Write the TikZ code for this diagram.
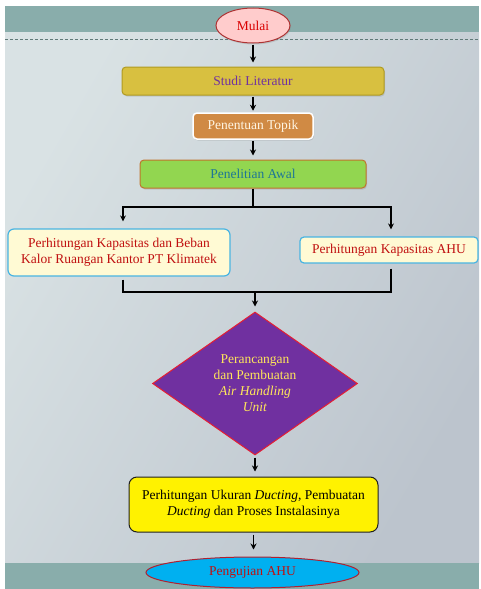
\documentclass[tikz,border=0pt]{standalone}
\usepackage{fontspec}
\setmainfont{Liberation Serif}
\usetikzlibrary{shapes.geometric,arrows.meta,shadows}
\definecolor{band}{HTML}{89ADAB}
\definecolor{bgl}{HTML}{D9E2E4}
\definecolor{bgd}{HTML}{BCC4CD}
\tikzset{
  every node/.style={font=\fontsize{13.5}{16}\selectfont, inner sep=0pt, align=center},
  boxshadow/.style={drop shadow={opacity=0.25, shadow xshift=1pt, shadow yshift=-1.5pt}},
  arr/.style={draw=black, line width=1.1pt, -{Stealth[length=6pt,width=6pt]}},
  conn/.style={draw=black, line width=1.1pt},
}
\begin{document}
\begin{tikzpicture}[x=1pt,y=-1pt]
\useasboundingbox (0,0) rectangle (480,589);
\fill[white] (0,0) rectangle (480,589);
% slide background
\shade[top color=bgl, bottom color=bgd, shading angle=60] (5,32) rectangle (479,563);
\fill[band] (5,6) rectangle (479,32);
\fill[band] (5,563) rectangle (479,589);
\draw[color=band!70!black, dashed, line width=0.6pt, dash pattern=on 3pt off 2pt] (5,39) -- (479,39);

% nodes
\node[ellipse, minimum width=74pt, minimum height=35pt, fill=red!20!white, draw=red!60!black!80, line width=1pt, text=red!85!black, boxshadow] (mulai) at (253,25.5) {Mulai};
\node[rounded corners=4pt, minimum width=262pt, minimum height=28pt, fill={rgb,255:red,216;green,192;blue,64}, draw={rgb,255:red,176;green,154;blue,32}, line width=1pt, text={rgb,255:red,112;green,48;blue,160}, boxshadow] (studi) at (253,81) {Studi Literatur};
\node[rounded corners=4pt, minimum width=120pt, minimum height=26pt, fill={rgb,255:red,208;green,138;blue,68}, draw=white, line width=1.5pt, text={rgb,255:red,255;green,246;blue,228}, boxshadow] (topik) at (253,126) {Penentuan Topik};
\node[rounded corners=4pt, minimum width=226pt, minimum height=28pt, fill={rgb,255:red,146;green,214;blue,80}, draw={rgb,255:red,192;green,116;blue,44}, line width=1pt, text={rgb,255:red,30;green,118;blue,150}, boxshadow] (awal) at (253,174) {Penelitian Awal};
\node[rounded corners=6pt, minimum width=222pt, minimum height=47pt, fill={rgb,255:red,255;green,250;blue,212}, draw={rgb,255:red,72;green,180;blue,226}, line width=1.2pt, text={rgb,255:red,192;green,16;blue,16}] (kiri) at (119,252.5) {Perhitungan Kapasitas dan Beban\\Kalor Ruangan Kantor PT Klimatek};
\node[rounded corners=4pt, minimum width=178pt, minimum height=26pt, fill={rgb,255:red,255;green,250;blue,212}, draw={rgb,255:red,72;green,180;blue,226}, line width=1.2pt, text={rgb,255:red,192;green,16;blue,16}] (kanan) at (389,250) {Perhitungan Kapasitas AHU};
\node[diamond, aspect=1.43, minimum width=205pt, minimum height=143pt, fill={rgb,255:red,112;green,48;blue,160}, draw={rgb,255:red,230;green,30;blue,50}, line width=1pt, text={rgb,255:red,255;green,230;blue,90}] (dmd) at (255,383.5) {Perancangan\\dan Pembuatan\\\textit{Air Handling}\\\textit{Unit}};
\node[rounded corners=8pt, minimum width=249pt, minimum height=55pt, fill=yellow, draw={rgb,255:red,32;green,32;blue,32}, line width=1pt, text=black] (duct) at (253.5,504.5) {Perhitungan Ukuran \textit{Ducting}, Pembuatan\\\textit{Ducting} dan Proses Instalasinya};
\node[ellipse, minimum width=213pt, minimum height=31pt, fill={rgb,255:red,0;green,176;blue,240}, draw={rgb,255:red,176;green,32;blue,48}, line width=1pt, text={rgb,255:red,192;green,16;blue,16}] (uji) at (252.5,572.5) {Pengujian AHU};

% connectors
\coordinate (split) at (253,207);
\coordinate (merge) at (255,292);
\draw[arr, shorten <=1pt, shorten >=4pt] (mulai.south) -- (mulai.south |- studi.north);
\draw[arr, shorten <=1pt, shorten >=1.5pt] (studi.south) -- (studi.south |- topik.north);
\draw[arr, shorten <=1pt, shorten >=4pt] (topik.south) -- (topik.south |- awal.north);
\draw[conn] (awal.south) -- (split);
\draw[arr, shorten >=7pt] (split) -| ([xshift=4pt]kiri.north);
\draw[arr, shorten >=7pt] (split) -| ([xshift=2pt]kanan.north);
\draw[conn, shorten <=3pt] ([xshift=4pt]kiri.south) |- (merge);
\draw[conn, shorten <=5pt] ([xshift=2pt]kanan.south) |- (merge);
\draw[arr, shorten >=5pt] (merge) -- (merge |- dmd.north);
\draw[arr, shorten <=2pt, shorten >=5pt] (dmd.south) -- (dmd.south |- duct.north);
\draw[arr, shorten <=2pt, shorten >=7pt] (duct.south) -- (duct.south |- uji.north);
\end{tikzpicture}
\end{document}
